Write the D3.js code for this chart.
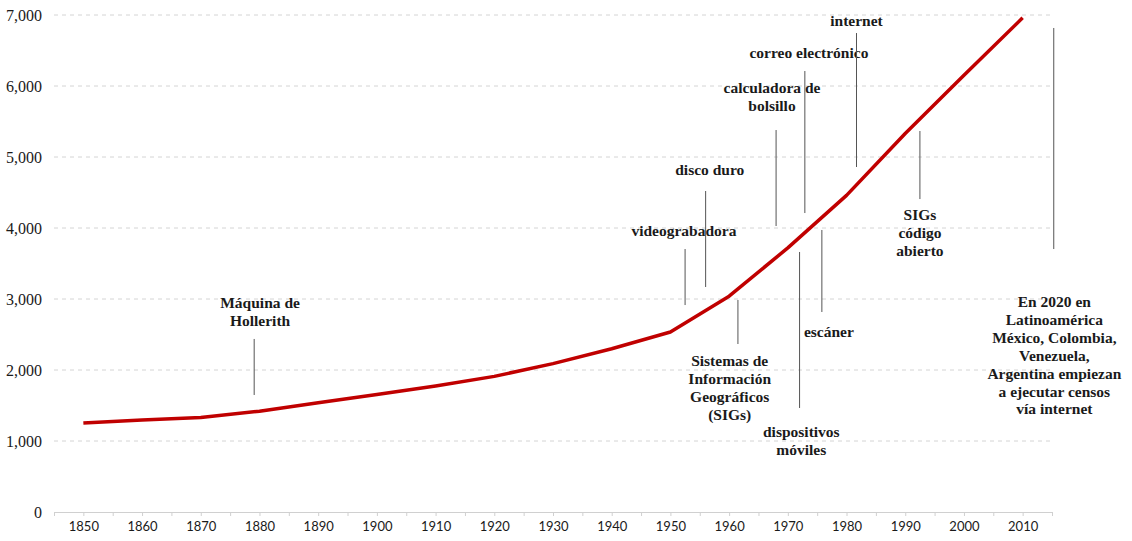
<!DOCTYPE html>
<html>
<head>
<meta charset="utf-8">
<script src="https://cdn.jsdelivr.net/npm/d3@7"></script>
<style>
    body { margin: 0; background: #fff; }
    svg text { fill: #1a1a1a; }
</style>
</head>
<body>
<div id="chart"></div>
<script>
// population (millions) by decade
let years = [1850, 1860, 1870, 1880, 1890, 1900, 1910, 1920, 1930, 1940, 1950, 1960, 1970, 1980, 1990, 2000, 2010];
let population = [1255, 1295, 1330, 1420, 1540, 1655, 1775, 1910, 2090, 2300, 2535, 3040, 3720, 4460, 5330, 6150, 6960];
let yTicks = [0, 1000, 2000, 3000, 4000, 5000, 6000, 7000];

// annotations: year of the pointer line, its top/bottom value, label centre and lines
let noteYears = [1879.1, 1952.5, 1956.0, 1968.0, 1972.9, 1981.7, 1992.5, 1961.5, 1975.8, 1972.0, 2015.3];
let noteTop = [2437, 3704, 4521, 5380, 6211, 6746, 5366, 2986, 3972, 3662, 6817];
let noteBottom = [1648, 2915, 3169, 4028, 4211, 4859, 4408, 2366, 2817, 1465, 3704];
let labelYears = [1880.1, 1952.3, 1956.7, 1967.3, 1973.6, 1981.7, 1992.5, 1960.1, 1977.0, 1972.3, 2015.4];
let labelValues = [2944, 3958, 4817, 5972, 6465, 6915, 4183, 2127, 2535, 1127, 2958];
let labelLines = [
    ['Máquina de', 'Hollerith'],
    ['videograbadora'],
    ['disco duro'],
    ['calculadora de', 'bolsillo'],
    ['correo electrónico'],
    ['internet'],
    ['SIGs', 'código', 'abierto'],
    ['Sistemas de', 'Información', 'Geográficos', '(SIGs)'],
    ['escáner'],
    ['dispositivos', 'móviles'],
    ['En 2020 en', 'Latinoamérica', 'México, Colombia,', 'Venezuela,', 'Argentina empiezan', 'a ejecutar censos', 'vía internet']
];

let width = 1132, height = 541;
let margin = {top: 15, right: 80, bottom: 29, left: 54};

let svg = d3.select('#chart').append('svg')
    .attr('width', width)
    .attr('height', height);

let x = d3.scaleLinear()
    .domain([1845, 2015])
    .range([margin.left, width - margin.right]);
let y = d3.scaleLinear()
    .domain([0, 7000])
    .range([height - margin.bottom, margin.top]);

// gridlines
svg.append('g')
    .selectAll('line')
    .data(yTicks.filter(d => d > 0))
    .enter().append('line')
    .attr('x1', x(1845))
    .attr('x2', x(2015))
    .attr('y1', d => y(d))
    .attr('y2', d => y(d))
    .attr('stroke', '#d4d4d4')
    .attr('stroke-width', 1)
    .attr('stroke-dasharray', '4,4');

// y labels
svg.append('g')
    .selectAll('text')
    .data(yTicks)
    .enter().append('text')
    .attr('x', margin.left - 12)
    .attr('y', d => y(d))
    .attr('dy', '0.35em')
    .attr('text-anchor', 'end')
    .style('font-family', '"Liberation Serif", serif')
    .style('font-size', '16px')
    .text(d3.format(','));

// x axis
let xAxis = d3.axisBottom(x)
    .tickValues(d3.range(1845, 2016, 5))
    .tickSize(4)
    .tickFormat(d => years.includes(d) ? d : '');
let gx = svg.append('g')
    .attr('transform', `translate(0,${y(0)})`)
    .call(xAxis);
gx.select('.domain').attr('stroke', '#d0d0d0');
gx.selectAll('.tick line').attr('stroke', '#d0d0d0');
gx.selectAll('.tick text')
    .attr('dy', '0.9em')
    .style('font-family', 'Lato, sans-serif')
    .style('font-size', '13px')
    .style('fill', '#1a1a1a');

// population line
let line = d3.line()
    .x((d, i) => x(years[i]))
    .y(d => y(d));
svg.append('path')
    .datum(population)
    .attr('d', line)
    .attr('fill', 'none')
    .attr('stroke', '#c00000')
    .attr('stroke-width', 3.5)
    .attr('stroke-linejoin', 'round');

// annotations
let notes = svg.append('g');
noteYears.forEach((yr, i) => {
    notes.append('line')
        .attr('x1', x(yr))
        .attr('x2', x(yr))
        .attr('y1', y(noteTop[i]))
        .attr('y2', y(noteBottom[i]))
        .attr('stroke', '#555')
        .attr('stroke-width', 1);
    let t = notes.append('text')
        .attr('x', x(labelYears[i]))
        .attr('y', y(labelValues[i]))
        .attr('text-anchor', 'middle')
        .style('font-family', '"Liberation Serif", serif')
        .style('font-weight', 'bold')
        .style('font-size', '15.5px');
    labelLines[i].forEach((s, j) => {
        t.append('tspan')
            .attr('x', x(labelYears[i]))
            .attr('dy', j === 0 ? '0.35em' : '1.15em')
            .text(s);
    });
});
</script>
</body>
</html>
